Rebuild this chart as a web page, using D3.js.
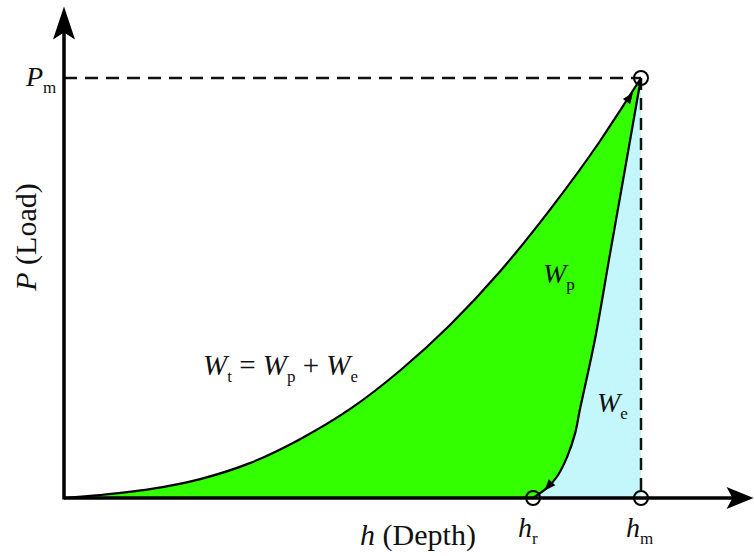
<!DOCTYPE html>
<meta charset="utf-8">
<style>
body {
  margin: 0;
  background: #fff;
}

.label {
  fill: #111;
  font-family: "Liberation Serif", "Times New Roman", serif;
  font-size: 28px;
}

.big {
  font-size: 30px;
}

.sub {
  font-size: 17px;
  font-style: normal;
}

.it {
  font-style: italic;
}

.dash {
  stroke: #111;
  stroke-width: 2.5;
  fill: none;
}

.axis-line {
  stroke: #000;
  stroke-width: 3.5;
}
</style>
<body>
  <div id="chart"></div>
</body>
<script src="https://cdn.jsdelivr.net/npm/d3@7"></script>
<script>

// depth h and load P, both in % of the max values (hm, Pm)
var loadH = [0, 6.2, 14.9, 23.6, 32.2, 40.9, 49.6, 58.2, 66.9, 75.6, 84.2, 92.9, 96.4, 100];
var loadP = [0, 0.7, 2.1, 4.5, 8.3, 14.0, 21.2, 30.3, 41.2, 54.0, 68.6, 85.0, 92.3, 100];

var unloadH = [100, 97.2, 94.6, 92.0, 89.4, 88.6, 87.2, 85.4, 83.7, 81.3];
var unloadP = [100, 78.1, 57.9, 37.6, 21.0, 15.5, 9.8, 5.0, 2.4, 0];

var hm = 100,
  hr = 81.3,
  Pm = 100;

var width = 754,
  height = 556;

var x = d3.scaleLinear().domain([0, 100]).range([64, 641]);
var y = d3.scaleLinear().domain([0, 100]).range([498, 78]);

var svg = d3.select("#chart").append("svg")
    .attr("width", width)
    .attr("height", height);

var loading = loadH.map(function(h, i) { return [h, loadP[i]]; });
var unloading = unloadH.map(function(h, i) { return [h, unloadP[i]]; });

var loadLine = d3.line()
    .x(function(d) { return x(d[0]); })
    .y(function(d) { return y(d[1]); })
    .curve(d3.curveMonotoneX);

var unloadLine = d3.line()
    .x(function(d) { return x(d[0]); })
    .y(function(d) { return y(d[1]); })
    .curve(d3.curveCatmullRom);

var loadPath = loadLine(loading);
var unloadPath = unloadLine(unloading);

// elastic part (light cyan)
svg.append("path")
    .attr("d", unloadPath + "L" + x(hm) + "," + y(0) + "Z")
    .attr("fill", "#c4f7fb");

// plastic part (green)
svg.append("path")
    .attr("d", loadPath + "L" + unloadPath.slice(1) + "Z")
    .attr("fill", "#33ff00");

// dashed guides
svg.append("line")
    .attr("class", "dash")
    .attr("x1", x(0)).attr("y1", y(Pm))
    .attr("x2", x(hm)).attr("y2", y(Pm))
    .attr("stroke-dasharray", "13,8");

svg.append("line")
    .attr("class", "dash")
    .attr("x1", x(hm)).attr("y1", y(Pm))
    .attr("x2", x(hm)).attr("y2", y(0))
    .attr("stroke-dasharray", "12,8");

svg.append("path")
    .attr("d", loadPath)
    .attr("fill", "none")
    .attr("stroke", "#000")
    .attr("stroke-width", 2.2);

svg.append("path")
    .attr("d", unloadPath)
    .attr("fill", "none")
    .attr("stroke", "#000")
    .attr("stroke-width", 2.2);

// small arrow heads along the curves
function curveArrow(p0, p1) {
  var x0 = x(p0[0]), y0 = y(p0[1]), x1 = x(p1[0]), y1 = y(p1[1]);
  var ang = Math.atan2(y1 - y0, x1 - x0) * 180 / Math.PI;
  svg.append("path")
      .attr("d", "M0,0L-11,-4.5L-11,4.5Z")
      .attr("fill", "#000")
      .attr("transform", "translate(" + x1 + "," + y1 + ") rotate(" + ang + ")");
}
curveArrow([96.4, 92.3], [98.6, 96.5]);
curveArrow([85.4, 5.0], [83.3, 1.8]);

// axes
var xEnd = 119.5,
  yEnd = 117;

svg.append("line")
    .attr("class", "axis-line")
    .attr("x1", x(0)).attr("y1", y(0))
    .attr("x2", x(xEnd) - 10).attr("y2", y(0));

svg.append("line")
    .attr("class", "axis-line")
    .attr("x1", x(0)).attr("y1", y(0) + 1.5)
    .attr("x2", x(0)).attr("y2", y(yEnd) + 12);

svg.append("path")
    .attr("d", "M0,0L-27,-11L-21,0L-27,11Z")
    .attr("fill", "#000")
    .attr("transform", "translate(" + x(xEnd) + "," + y(0) + ")");

svg.append("path")
    .attr("d", "M0,0L-33,-11L-26,0L-33,11Z")
    .attr("fill", "#000")
    .attr("transform", "translate(" + x(0) + "," + y(yEnd) + ") rotate(-90)");

// marker circles
var marks = [[hm, Pm], [hr, 0], [hm, 0]];
svg.selectAll("circle.mark")
    .data(marks)
    .enter().append("circle")
    .attr("class", "mark")
    .attr("cx", function(d) { return x(d[0]); })
    .attr("cy", function(d) { return y(d[1]); })
    .attr("r", 7)
    .attr("fill", "none")
    .attr("stroke", "#000")
    .attr("stroke-width", 2);

// labels: [main, subscript] pieces
function label(px, py, parts, anchor) {
  var t = svg.append("text")
      .attr("class", "label")
      .attr("x", px)
      .attr("y", py)
      .attr("text-anchor", anchor || "start");
  parts.forEach(function(p) {
    var s = t.append("tspan").text(p.t);
    if (p.it) s.attr("class", "it");
    if (p.sub) s.attr("class", "sub").attr("dy", 7);
    if (p.up) s.attr("dy", -7);
  });
  return t;
}

label(26, 86, [{t: "P", it: true}, {t: "m", sub: true}]);
label(518, 537, [{t: "h", it: true}, {t: "r", sub: true}]);
label(626, 537, [{t: "h", it: true}, {t: "m", sub: true}]);
label(543, 283, [{t: "W", it: true}, {t: "p", sub: true}]);
label(597, 412, [{t: "W", it: true}, {t: "e", sub: true}]);
label(203, 375, [
  {t: "W", it: true}, {t: "t", sub: true}, {t: " = ", up: true},
  {t: "W", it: true}, {t: "p", sub: true}, {t: " + ", up: true},
  {t: "W", it: true}, {t: "e", sub: true}
]).style("font-size", "29px");

label(418, 545, [{t: "h", it: true}, {t: " (Depth)"}], "middle")
    .classed("big", true);

label(0, 0, [{t: "P", it: true}, {t: " (Load)"}], "middle")
    .classed("big", true)
    .attr("transform", "translate(36,237) rotate(-90)");

</script>
</body>
</html>
